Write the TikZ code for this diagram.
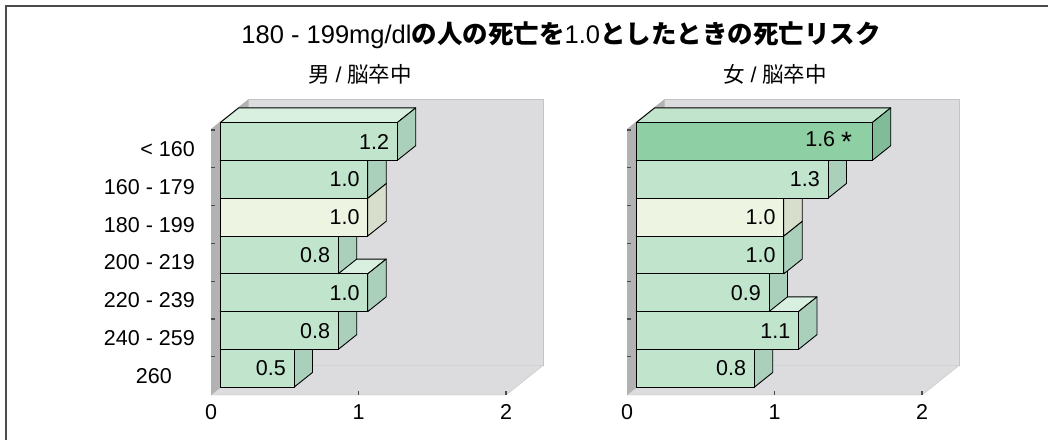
\documentclass[tikz,border=0pt]{standalone}
\usepackage{fontspec}
\setmainfont{Liberation Sans}
\newfontfamily\jp{Noto Sans CJK JP}
\usepackage{xcolor}
\usepackage{tikz}

\definecolor{wallgray}{RGB}{220,220,222}
\definecolor{wallline}{RGB}{196,196,198}
\definecolor{sidewall}{RGB}{178,178,178}
\definecolor{frontstd}{RGB}{193,228,204}
\definecolor{topstd}{RGB}{217,240,225}
\definecolor{sidestd}{RGB}{170,208,187}
\definecolor{frontref}{RGB}{237,244,226}
\definecolor{topref}{RGB}{237,244,226}
\definecolor{sideref}{RGB}{215,222,203}
\definecolor{fronthi}{RGB}{143,207,164}
\definecolor{tophi}{RGB}{193,228,204}
\definecolor{sidehi}{RGB}{127,188,151}

\tikzset{
  barface/.style={draw=black, line width=0.9pt, line join=round},
  lbl/.style={font=\fontsize{21.5}{24}\selectfont, inner sep=0pt},
  wallmark/.style={draw=black!70, line width=1.1pt}
}

\begin{document}
\begin{tikzpicture}[x=1pt, y=-1pt]
  \useasboundingbox (0,0) rectangle (1048,440);
  \fill[white] (0,0) rectangle (1048,440);

  % Frame
  \draw[line width=2.2pt, black!70] (6,440) -- (6,6) -- (1048,6);

  % Title and panel heads
  \node[lbl, font=\fontsize{25.5}{28}\selectfont] (title) at (561,35)
    {180 - 199mg/dl{\jp\bfseries の人の死亡を}1.0{\jp\bfseries としたときの死亡リスク}};
  \node[lbl] (m-head) at (360,74) {{\jp 男} / {\jp 脳卒中}};
  \node[lbl] (f-head) at (775,74) {{\jp 女} / {\jp 脳卒中}};

  % Category labels
  \foreach \t [count=\k from 0] in {< 160, 160 - 179, 180 - 199, 200 - 219, 220 - 239, 240 - 259}
    \node[lbl, anchor=east] (cat-\k) at (195,149+\k*37.8) {\t};
  \node[lbl, anchor=east] (cat-6) at (172,375.8) {260};

  % Both panels: walls, floor, bars (bottom bar first)
  \foreach \sx/\name/\bars in {
      211/m/{0.5/std/0.5/8, 0.8/std/0.8/8, 1.0/std/1.0/8, 0.8/std/0.8/8, 1.0/ref/1.0/8, 1.0/std/1.0/8, 1.2/std/1.2/8},
      627/f/{0.8/std/0.8/8, 1.1/std/1.1/8, 0.9/std/0.9/8, 1.0/std/1.0/8, 1.0/ref/1.0/8, 1.3/std/1.3/8, 1.6/hi/{1.6 \raisebox{-5pt}{\fontsize{28}{28}\selectfont *}}/20}} {
    \begin{scope}[shift={(\sx,0)}]
      % Back wall
      \fill[wallgray] (37,99.5) rectangle (332,365.5);
      \draw[wallline] (37,365.5) -- (37,99.5) -- (332,99.5) -- (332,365.5);
      % Floor
      \filldraw[fill=wallgray, draw=wallline] (0,395) -- (295,395) -- (332,365.5) -- (37,365.5) -- cycle;
      % Left wall
      \fill[sidewall] (0,129) -- (37,99.5) -- (37,365.5) -- (0,395) -- cycle;
      \foreach \k in {0,...,6}
        \draw[wallmark] (0,130+\k*37.8) -- ++(4,0);
      \draw[wallmark] (147.5,395) -- ++(0,-4);
      \draw[wallmark] (295,395) -- ++(0,-4);

      % Bars
      \foreach \v/\c/\t/\pad [count=\k] in \bars {
        \pgfmathsetmacro\ty{122.6+(7-\k)*37.8}
        \pgfmathsetmacro\len{9.25+\v*147.5}
        \filldraw[barface, fill=top\c] (9.25,\ty) -- (\len,\ty) -- ++(18.5,-14.75) -- (27.75,\ty-14.75) -- cycle;
        \filldraw[barface, fill=side\c] (\len,\ty) -- ++(18.5,-14.75) -- ++(0,37.8) -- (\len,\ty+37.8) -- cycle;
        \filldraw[barface, fill=front\c] (9.25,\ty) rectangle (\len,\ty+37.8);
        \node[lbl, anchor=east] (\name-v\k) at (\len-\pad,\ty+19) {\t};
      }

      % Axis numbers
      \node[lbl] (\name-x0) at (0,412) {0};
      \node[lbl] (\name-x1) at (147.5,412) {1};
      \node[lbl] (\name-x2) at (295,412) {2};
    \end{scope}
  }
\end{tikzpicture}
\end{document}
